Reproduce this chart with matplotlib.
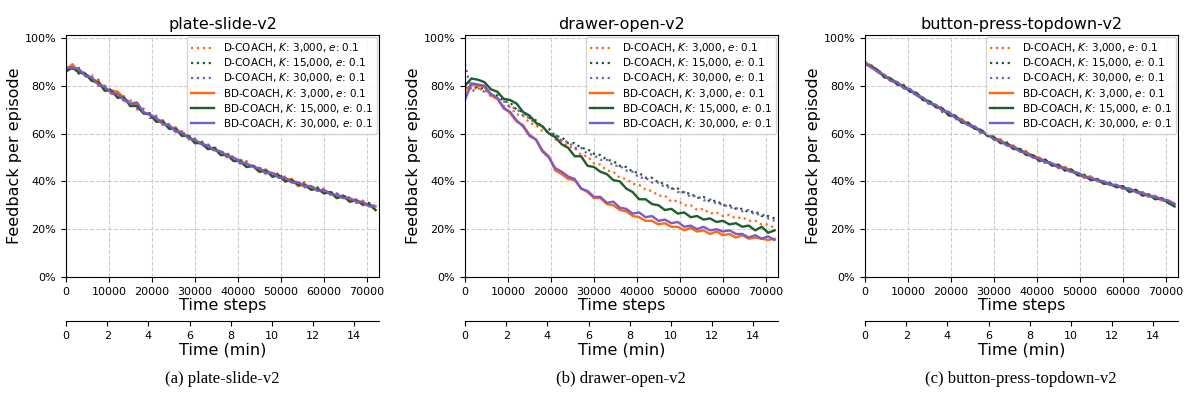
import matplotlib.pyplot as plt
from matplotlib.ticker import PercentFormatter

# time steps for every logged point (every 1500 steps)
steps = list(range(0, 72001, 1500))
steps_per_min = 4790.0

names = ["plate-slide-v2", "drawer-open-v2", "button-press-topdown-v2"]
captions = ["(a) plate-slide-v2", "(b) drawer-open-v2", "(c) button-press-topdown-v2"]

labels = ["D-COACH, $K$: 3,000, $e$: 0.1",
          "D-COACH, $K$: 15,000, $e$: 0.1",
          "D-COACH, $K$: 30,000, $e$: 0.1",
          "BD-COACH, $K$: 3,000, $e$: 0.1",
          "BD-COACH, $K$: 15,000, $e$: 0.1",
          "BD-COACH, $K$: 30,000, $e$: 0.1"]

# feedback per episode in %, plate-slide-v2
a_d3 = [88, 87, 87, 84, 84.5, 80, 80, 76.5, 77, 73.5,
        74, 70, 70.5, 66.5, 67.5, 63.5, 64, 60.5, 61, 57.5,
        58, 55, 55.5, 52.5, 53, 50, 50.5, 47.5, 48.5, 45.5,
        46, 43, 44, 41.5, 42, 39.5, 40, 37.5, 38.5, 36,
        37, 34.5, 35, 33, 33.5, 31, 32, 30, 30]
a_d15 = [86, 88.5, 85, 85.5, 82.5, 82.5, 78, 78.5, 75, 75.5,
         71.5, 72, 68.5, 68.5, 65, 65.5, 62, 62.5, 59, 59.5,
         56, 57, 53.5, 54.5, 51, 52, 48.5, 49.5, 46, 47,
         44, 45, 42, 43.5, 40, 41, 38, 39.5, 36.5, 37.5,
         35, 36, 33, 34.5, 31.5, 32.5, 30, 31, 28.5]
a_d30 = [87.5, 87, 87.5, 84, 83.5, 80, 80, 77, 76.5, 73.5,
         73.5, 70.5, 70, 66.5, 67, 64, 63.5, 60.5, 61, 58,
         57.5, 55, 55.5, 52.5, 53, 50, 50.5, 47.5, 48, 45.5,
         45.5, 43, 44, 41.5, 41.5, 39.5, 40, 37.5, 38, 36,
         36.5, 34.5, 35, 32.5, 33, 31, 31.5, 29.5, 30]
a_b3 = [86.5, 89, 85.5, 85, 82, 82, 78, 78, 77.5, 75,
        71.5, 72, 68.5, 68, 65, 65.5, 62, 62.5, 59, 59,
        56, 56.5, 53.5, 54, 51, 51.5, 48.5, 49, 46, 46.5,
        44, 45, 42, 42.5, 40, 41, 38, 39, 36.5, 37,
        35, 35.5, 33, 34, 31.5, 32.5, 30, 30.5, 28]
a_b15 = [86, 87.5, 85.5, 85, 82, 81.5, 78, 78, 75, 75,
         71.5, 71.5, 68.5, 68, 65, 65, 62, 62, 59, 59,
         56, 56, 53.5, 54, 51, 51, 48.5, 48.5, 46, 46.5,
         44, 44.5, 42, 42.5, 40, 40.5, 38.5, 38.5, 36.5, 37,
         35, 35.5, 33, 34, 31.5, 32, 30.5, 30.5, 28]
a_b30 = [87.5, 87.5, 87, 84, 83.5, 80.5, 79.5, 77, 76.5, 74,
         72.5, 73, 69, 68, 66.5, 64, 63.5, 61, 60.5, 58,
         57.5, 55.5, 55, 53, 52.5, 50.5, 50, 48, 47.5, 46,
         45.5, 43.5, 43.5, 41.5, 41.5, 39.5, 39.5, 38, 38, 36,
         36.5, 34.5, 34.5, 33, 33, 31.5, 31.5, 29.5, 29.5]

# drawer-open-v2
b_d3 = [77, 79.5, 78.5, 78.5, 75.5, 74.5, 71.5, 71, 68, 67.5,
        64.5, 63.5, 61, 60.5, 57.5, 57, 54.5, 54, 51, 50.5,
        47.5, 47, 44.5, 44, 41.5, 41, 39, 38.5, 36.5, 36,
        34, 34, 31.5, 32, 30, 30, 28, 28.5, 26.5, 27,
        25.5, 26, 24.5, 25, 23.5, 23.5, 22, 22, 20.5]
b_d15 = [79, 80.5, 79, 79, 76.5, 76, 73.5, 73, 70, 69,
         66.5, 65.5, 62.5, 62, 59, 58.5, 56, 56, 54, 53.5,
         51.5, 51, 49, 48.5, 46.5, 46, 44, 43.5, 41.5, 41.5,
         39.5, 39, 37, 37, 35, 35, 33, 33.5, 31.5, 32,
         30, 30, 28.5, 28.5, 27, 27.5, 25.5, 25.5, 24.5]
b_d30 = [89, 77.5, 79, 77.5, 77, 74.5, 73.5, 71, 70.5, 67.5,
         66.5, 64, 63, 60, 59.5, 57, 56.5, 54, 54, 51.5,
         51, 49, 49, 46.5, 46.5, 44.5, 44, 41.5, 41.5, 39.5,
         39.5, 37.5, 37.5, 35.5, 35.5, 33.5, 34, 32, 32.5, 30.5,
         30.5, 29, 29, 27.5, 28, 26, 26.5, 24.5, 23.5]
b_b3 = [78, 80.5, 80, 79.5, 76, 74.5, 71, 68.5, 65, 63.5,
        59.5, 57.5, 53, 50.5, 44.5, 43, 41, 40.5, 37, 35.5,
        33, 33, 30.5, 30, 28, 27.5, 25.5, 25, 23.5, 23.5,
        22, 22.5, 21, 21, 19.5, 20.5, 19, 19.5, 18, 19,
        17.5, 18, 16.5, 17.5, 16, 16.5, 16, 15.5, 16]
b_b15 = [80, 83, 82.5, 81.5, 78.5, 77.5, 74.5, 74, 72.5, 69,
         67.5, 64.5, 63, 60, 58.5, 55.5, 54, 50.5, 50.5, 46.5,
         46, 44, 43, 40.5, 40, 37, 35.5, 32.5, 32.5, 30.5,
         30, 28, 28.5, 26.5, 27, 25, 25.5, 24, 24.5, 23,
         23.5, 22, 22.5, 21, 21.5, 19.5, 21, 18.5, 19.5]
b_b30 = [74, 81, 80.5, 80, 76.5, 75, 70.5, 69, 65.5, 63,
         59, 57.5, 52.5, 50, 45.5, 44, 42, 41, 37, 36,
         33.5, 33.5, 31, 31.5, 29, 28.5, 26.5, 27, 25, 25.5,
         23.5, 24, 22.5, 23, 21, 21.5, 20, 21, 19.5, 20,
         19, 19.5, 18, 18, 16.5, 17.5, 16, 17, 15.5]

# button-press-topdown-v2
c_d3 = [90, 87.5, 87, 83.5, 83.5, 80.5, 80.5, 77.5, 77, 74,
        74, 71, 71, 67.5, 67.5, 64.5, 64.5, 62, 62, 59,
        59, 56, 56.5, 53.5, 54, 51, 51.5, 49, 49, 46.5,
        47, 44.5, 45, 42.5, 43, 40.5, 41, 39, 39.5, 37.5,
        38, 36, 36.5, 34.5, 34.5, 33, 33, 31, 31]
c_d15 = [89, 88.5, 85.5, 84.5, 82, 81.5, 79, 78.5, 75.5, 75,
         72, 72, 69, 69, 66, 66, 63, 63, 60, 60,
         57.5, 57.5, 55, 55, 52.5, 52.5, 50, 50, 47.5, 48,
         45.5, 46, 43.5, 44, 41.5, 42, 40, 40, 38.5, 38.5,
         37, 37, 35, 35.5, 33.5, 33.5, 32, 32, 30]
c_d30 = [90, 87.5, 86.5, 83.5, 83, 80.5, 80, 77.5, 77, 74,
         73.5, 71, 70.5, 68, 67.5, 65, 64.5, 62, 61.5, 59,
         58.5, 56.5, 56, 54, 53.5, 51.5, 51, 49, 49, 47,
         46.5, 45, 44.5, 43, 42.5, 41, 41, 39.5, 39.5, 38,
         37.5, 36, 36, 34.5, 34.5, 33, 32.5, 31.5, 31]
c_b3 = [89.5, 88.5, 85.5, 84.5, 82, 81.5, 79, 78.5, 76, 75,
        72.5, 72, 69.5, 69, 66.5, 66, 63.5, 63, 60.5, 60,
        57.5, 57.5, 55, 55, 52.5, 52.5, 50, 50, 48, 47.5,
        45.5, 46, 44, 43.5, 41.5, 42, 40, 40, 38.5, 38.5,
        37, 37, 35.5, 35.5, 33.5, 34, 32, 32, 30.5]
c_b15 = [89, 88, 86.5, 83.5, 83, 80.5, 80, 77.5, 77, 74,
         73.5, 71, 70.5, 67.5, 67.5, 64.5, 64.5, 62, 61.5, 59,
         58.5, 56, 56, 53.5, 53.5, 51, 51, 48.5, 49, 46.5,
         47, 44.5, 45, 42.5, 42.5, 40.5, 41, 39, 39, 37.5,
         38, 35.5, 36.5, 34, 34.5, 32.5, 33, 31, 29.5]
c_b30 = [89.5, 87.5, 86, 84.5, 82, 81.5, 79, 78.5, 76, 75,
         72.5, 72, 69.5, 69, 66.5, 65.5, 63.5, 63, 60.5, 60,
         57.5, 57, 55, 54.5, 52.5, 52, 50, 49.5, 48, 47.5,
         46, 45.5, 44, 43.5, 42, 41.5, 40.5, 40, 38.5, 38.5,
         37, 37, 35.5, 35, 34, 33.5, 32.5, 32, 30.5]

panels = [[a_d3, a_d15, a_d30, a_b3, a_b15, a_b30],
          [b_d3, b_d15, b_d30, b_b3, b_b15, b_b30],
          [c_d3, c_d15, c_d30, c_b3, c_b15, c_b30]]

orange = "#ff6a10"
green = "#1d5e2c"
purple = "#7b5bc6"
colors = [orange, green, purple, orange, green, purple]
styles = [":", ":", ":", "-", "-", "-"]
widths = [1.6, 1.6, 1.6, 1.7, 1.7, 1.7]

fig = plt.figure(figsize=(11.92, 4.03), dpi=100)
lefts = [66 / 1192, 465 / 1192, 865 / 1192]

for k in range(3):
    ax = fig.add_axes([lefts[k], 126 / 403, 313 / 1192, 242 / 403])
    for j in range(6):
        ax.plot(steps, [v / 100 for v in panels[k][j]], linestyle=styles[j],
                color=colors[j], lw=widths[j], label=labels[j])
    ax.set_xlim(0, 72800)
    ax.set_ylim(0, 1.012)
    ax.set_yticks([0, 0.2, 0.4, 0.6, 0.8, 1.0])
    ax.yaxis.set_major_formatter(PercentFormatter(1.0, decimals=0))
    ax.set_xticks(range(0, 70001, 10000))
    ax.tick_params(labelsize=8, length=3.5)
    ax.grid(True, linestyle="--", color="#cccccc", lw=0.8)
    ax.set_title(names[k], fontsize=11.5, pad=4)
    ax.set_xlabel("Time steps", fontsize=11.5, labelpad=1)
    ax.set_ylabel("Feedback per episode", fontsize=11.5, labelpad=2)
    ax.legend(loc="upper right", fontsize=7.5, borderaxespad=0.2,
              handlelength=2.2, labelspacing=0.2, borderpad=0.4)

    sec = ax.secondary_xaxis(-0.183, functions=(lambda s: s / steps_per_min,
                                                 lambda m: m * steps_per_min))
    sec.set_xticks(range(0, 15, 2))
    sec.tick_params(labelsize=8, length=3.5)
    sec.set_xlabel("Time (min)", fontsize=11.5, labelpad=1)

    fig.text(lefts[k] + 156 / 1192, 0.05, captions[k], ha="center",
             fontsize=12, family="Liberation Serif")

fig.savefig("out.png", dpi=100)
